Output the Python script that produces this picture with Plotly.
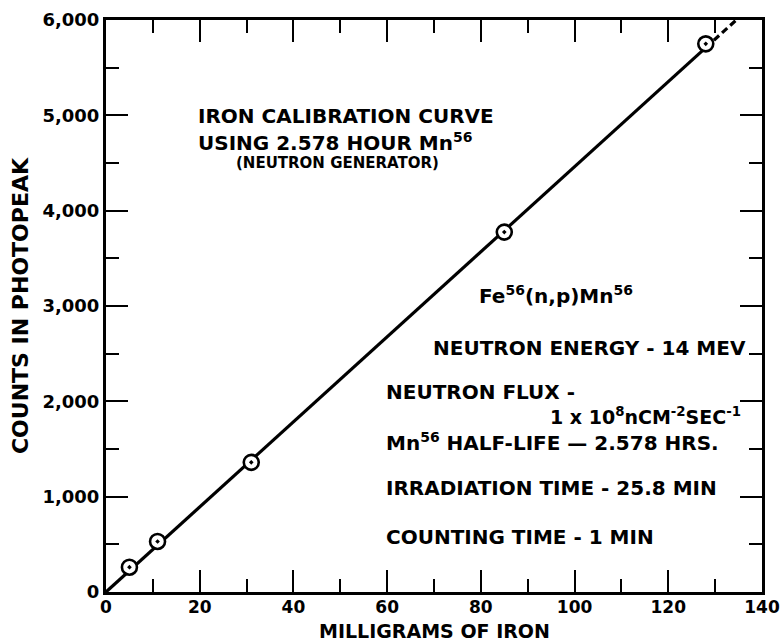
import plotly.graph_objects as go

# Measured data (milligrams of iron vs counts in photopeak)
iron_mg = [5, 11, 31, 85, 128]
counts = [260, 530, 1360, 3775, 5750]

# Calibration line (solid part and dashed extension)
fit_x = [0, 128]
fit_y = [0, 5710]
ext_x = [128, 134.5]
ext_y = [5710, 6000]

x_ticks = [0, 20, 40, 60, 80, 100, 120, 140]
y_ticks = [0, 1000, 2000, 3000, 4000, 5000, 6000]

FONT = "DejaVu Sans"
fig = go.Figure()
fig.add_trace(go.Scatter(x=fit_x, y=fit_y, mode="lines",
                         line=dict(color="black", width=3.2), showlegend=False))
fig.add_trace(go.Scatter(x=ext_x, y=ext_y, mode="lines",
                         line=dict(color="black", width=3.2, dash="7px,4px"), showlegend=False))
fig.add_trace(go.Scatter(x=iron_mg, y=counts, mode="markers",
                         marker=dict(symbol="circle-dot", size=15, color="white",
                                     line=dict(color="black", width=2.6)),
                         showlegend=False))

axis_common = dict(showgrid=False, zeroline=False, showline=True, linecolor="black",
                   linewidth=3, mirror="ticks", ticks="inside", ticklen=22, tickwidth=2,
                   tickcolor="black", automargin=False, ticklabeloverflow="allow")

fig.update_xaxes(range=[0, 140], tickvals=x_ticks, ticklabelstandoff=-2,
                 tickfont=dict(family=FONT, size=17, color="black", weight="bold"),
                 minor=dict(dtick=10, ticklen=13, tickwidth=2, ticks="inside", tickcolor="black"),
                 **axis_common)
fig.update_yaxes(range=[0, 6000], tickvals=y_ticks, tickformat=",d",
                 tickfont=dict(family=FONT, size=18, color="black", weight="bold"),
                 minor=dict(dtick=500, ticklen=13, tickwidth=2, ticks="inside", tickcolor="black"),
                 title=dict(text="COUNTS IN PHOTOPEAK",
                            font=dict(family=FONT, size=22, color="black", weight="bold"),
                            standoff=8),
                 **axis_common)

# x-axis title placed just below the tick labels
fig.add_annotation(xref="paper", yref="paper", x=0.5, y=-0.0884, yanchor="bottom",
                   showarrow=False, text="MILLIGRAMS OF IRON", borderpad=0,
                   font=dict(family=FONT, size=19, color="black", weight="bold"))

ann_font = dict(family=FONT, size=20, color="black", weight="bold")
annotations = [
    dict(x=19.4, y=4992, text="IRON CALIBRATION CURVE", xanchor="left"),
    dict(x=19.4, y=4719, text="USING 2.578 HOUR Mn<sup>56</sup>", xanchor="left"),
    dict(x=49.5, y=4495, text="(NEUTRON GENERATOR)", xanchor="center", size=15),
    dict(x=79.4, y=3113, text="Fe<sup>56</sup>(n,p)Mn<sup>56</sup>", xanchor="left"),
    dict(x=69.6, y=2556, text="NEUTRON ENERGY - 14 MEV", xanchor="left"),
    dict(x=59.5, y=2095, text="NEUTRON FLUX -", xanchor="left"),
    dict(x=135.7, y=1845, text="1 x 10<sup>8</sup>nCM<sup>-2</sup>SEC<sup>-1</sup>", xanchor="right", size=19),
    dict(x=59.5, y=1570, text="Mn<sup>56</sup> HALF-LIFE \u2014 2.578 HRS.", xanchor="left"),
    dict(x=59.5, y=1087, text="IRRADIATION TIME - 25.8 MIN", xanchor="left"),
    dict(x=59.5, y=572, text="COUNTING TIME - 1 MIN", xanchor="left"),
]
for a in annotations:
    f = dict(ann_font)
    if "size" in a:
        f["size"] = a.pop("size")
    fig.add_annotation(xref="x", yref="y", showarrow=False, yanchor="middle",
                       borderpad=0, font=f, **a)

fig.update_layout(width=780, height=642, plot_bgcolor="white", paper_bgcolor="white",
                  margin=dict(l=106, r=18, t=20, b=50))

fig.write_html("out.html")
